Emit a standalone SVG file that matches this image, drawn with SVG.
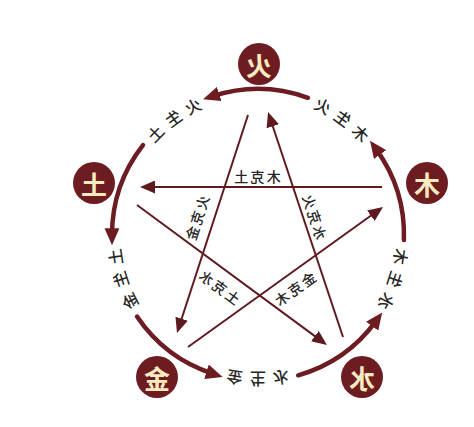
<svg xmlns="http://www.w3.org/2000/svg" width="474" height="427" viewBox="0 0 474 427">
<defs>
<style>
.node circle{fill:#6d1c21}
.node text{fill:#f8ebbf;font-family:"Noto Sans CJK SC","Noto Sans",sans-serif;font-size:26px;font-weight:bold;text-anchor:middle;dominant-baseline:central}
.arc{fill:none;stroke:#6d1c21;stroke-width:4.5;stroke-linecap:round;marker-end:url(#big)}
.ke{fill:none;stroke:#5e1a1f;stroke-width:2;marker-end:url(#small)}
.lbl text{fill:#262626;font-family:"Noto Sans CJK SC","Noto Sans",sans-serif;font-size:16px;font-weight:500;text-anchor:middle;dominant-baseline:central}
.klbl text{fill:#262626;font-family:"Noto Sans CJK SC","Noto Sans",sans-serif;font-size:14px;font-weight:500;text-anchor:middle;dominant-baseline:central}
</style>
<marker id="big" viewBox="0 0 17 15" refX="7" refY="7.5" markerWidth="17" markerHeight="15" orient="auto" markerUnits="userSpaceOnUse"><path d="M0,0 L17,7.5 L0,15 z" fill="#6d1c21"/></marker>
<marker id="small" viewBox="0 0 15 13" refX="5" refY="6.5" markerWidth="15" markerHeight="13" orient="auto" markerUnits="userSpaceOnUse"><path d="M0,0 L15,6.5 L0,13 z" fill="#5e1a1f"/></marker>
</defs>
<rect width="474" height="427" fill="#ffffff"/>
<g transform="matrix(-1 0 0 1 474 0)">
<g id="connectors">
<path class="arc" d="M166.1,97.8 A146,146 0 0 1 261.4,96.2"/>
<path class="arc" d="M331.0,145.1 A146,146 0 0 1 362.0,235.3"/>
<path class="arc" d="M337.0,316.6 A146,146 0 0 1 260.9,373.9"/>
<path class="arc" d="M175.8,375.3 A146,146 0 0 1 97.7,320.6"/>
<path class="arc" d="M70.1,240.1 A146,146 0 0 1 98.1,148.9"/>
<line class="ke" x1="92" y1="187" x2="324" y2="187"/>
<line class="ke" x1="131" y1="337" x2="202.8" y2="121.5"/>
<line class="ke" x1="226" y1="115" x2="293.9" y2="323.5"/>
<line class="ke" x1="337" y1="205" x2="155.1" y2="339.1"/>
<line class="ke" x1="286" y1="347" x2="99.1" y2="212.8"/>
</g>
<g id="sheng-labels" class="lbl">
<text transform="translate(281.2,105.5) rotate(26.7)">火</text>
<text transform="translate(301.2,117.7) rotate(36)">生</text>
<text transform="translate(319.1,133.0) rotate(45.3)">土</text>
<text transform="translate(359.3,256.9) rotate(98.7)">土</text>
<text transform="translate(353.9,279.8) rotate(108)">生</text>
<text transform="translate(344.8,301.5) rotate(117.3)">金</text>
<text transform="translate(239.4,378.1) rotate(170.7)">金</text>
<text transform="translate(216,380) rotate(180)">生</text>
<text transform="translate(192.6,378.1) rotate(189.3)">水</text>
<text transform="translate(87.2,301.5) rotate(242.7)">水</text>
<text transform="translate(78.1,279.8) rotate(252)">生</text>
<text transform="translate(72.7,256.9) rotate(261.3)">木</text>
<text transform="translate(112.9,133.0) rotate(314.7)">木</text>
<text transform="translate(130.8,117.7) rotate(324)">生</text>
<text transform="translate(150.8,105.5) rotate(333.3)">火</text>
</g>
<g id="ke-labels" class="klbl">
<text transform="translate(200.2,176)">木</text>
<text transform="translate(216.5,176)">克</text>
<text transform="translate(232.8,176)">土</text>
<text transform="translate(153.9,232.2) rotate(-71.6)">水</text>
<text transform="translate(159,217) rotate(-71.6)">克</text>
<text transform="translate(164.1,201.8) rotate(-71.6)">火</text>
<text transform="translate(272,202.3) rotate(72)">火</text>
<text transform="translate(277,217.5) rotate(72)">克</text>
<text transform="translate(282,232.7) rotate(72)">金</text>
<text transform="translate(240.9,296.7) rotate(-36.4)">土</text>
<text transform="translate(254,287) rotate(-36.4)">克</text>
<text transform="translate(267.1,277.3) rotate(-36.4)">水</text>
<text transform="translate(165.8,279) rotate(35.7)">金</text>
<text transform="translate(179,288.5) rotate(35.7)">克</text>
<text transform="translate(192.2,298) rotate(35.7)">木</text>
</g>
<g id="fire" class="node"><circle cx="215" cy="64" r="21"/><text x="215" y="64">火</text></g>
<g id="earth" class="node"><circle cx="380" cy="183" r="21"/><text x="380" y="183">土</text></g>
<g id="wood" class="node"><circle cx="47" cy="183" r="21"/><text x="47" y="183">木</text></g>
<g id="metal" class="node"><circle cx="317" cy="377" r="21"/><text x="317" y="377">金</text></g>
<g id="water" class="node"><circle cx="112" cy="377" r="21"/><text x="112" y="377">水</text></g>
</g>
</svg>
